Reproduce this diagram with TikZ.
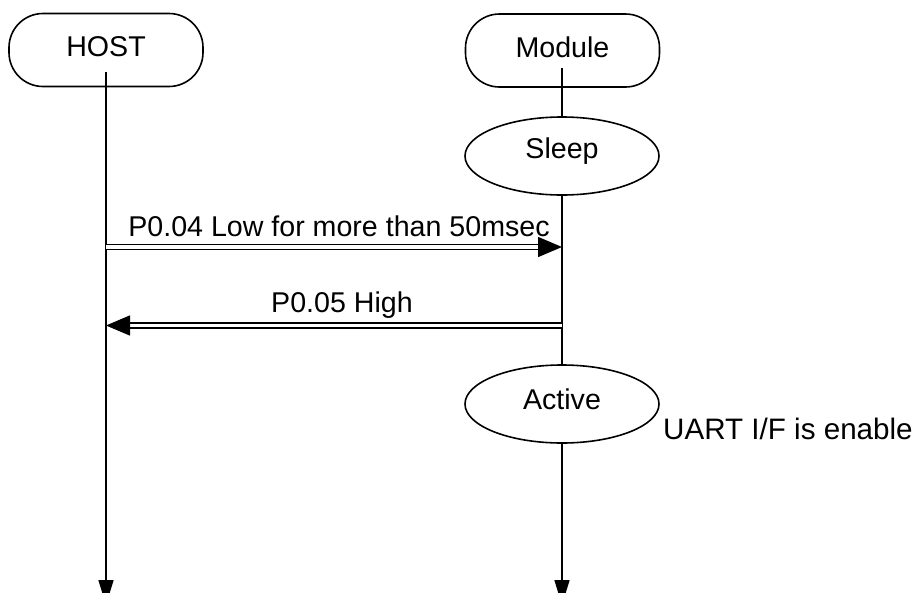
\documentclass[tikz,border=0pt]{standalone}
\usepackage{fontspec}
\setmainfont{Liberation Sans}
\usetikzlibrary{arrows.meta,shapes.geometric,calc}
\begin{document}
\begin{tikzpicture}[x=1pt,y=-1pt,
  every node/.style={font=\fontsize{28.6}{34}\selectfont},
  actor/.style={draw,line width=1.6pt,rounded corners=34pt,minimum width=194pt,minimum height=73pt,inner sep=0pt},
  state/.style={draw,ellipse,line width=1.6pt,minimum width=194pt,minimum height=78pt,inner sep=0pt},
  life/.style={line width=1.6pt},
  lifeend/.style={line width=1.6pt,-{Triangle[length=25pt,width=15pt]}},
  msg/.style={line width=1.5pt,double,double distance=3.2pt,-{Triangle[length=24pt,width=20pt]}},
  lbl/.style={inner sep=0pt,anchor=base}]
\useasboundingbox (0,0) rectangle (916,592);
% actors
\node[actor] (host) at (106,50) {};
\node at (106,47) {HOST};
\node[actor] (mod) at (562.5,50.5) {};
\node at (562.5,47) {Module};
% states
\node[state] (sleep) at (562,156) {};
\node at (562,151) {Sleep};
\node[state] (active) at (562,404) {};
\node at (562,399) {Active};
\node[inner sep=0pt,anchor=base west,font=\fontsize{29.6}{34}\selectfont] (uart) at (663,439) {UART I/F is enable};
% lifeline coordinates
\coordinate (hs) at (106,72);
\coordinate (he) at (106,605);
\coordinate (ms) at (562,68);
\coordinate (me) at (562,605);
\coordinate (h1) at (106,247);
\coordinate (m1) at (562,247);
\coordinate (h2) at (106,325.5);
\coordinate (m2) at (562,325.5);
% lifelines
\draw[lifeend] (hs) -- (he);
\draw[life] (ms) -- (sleep.north);
\draw[life] (sleep.south) -- (active.north);
\draw[lifeend] (active.south) -- (me);
% messages
\draw[msg] (h1) -- (m1);
\node[lbl] at (339,236.5) {P0.04 Low for more than 50msec};
\draw[msg] (m2) -- (h2);
\node[lbl] at (342,312) {P0.05 High};
\end{tikzpicture}
\end{document}
